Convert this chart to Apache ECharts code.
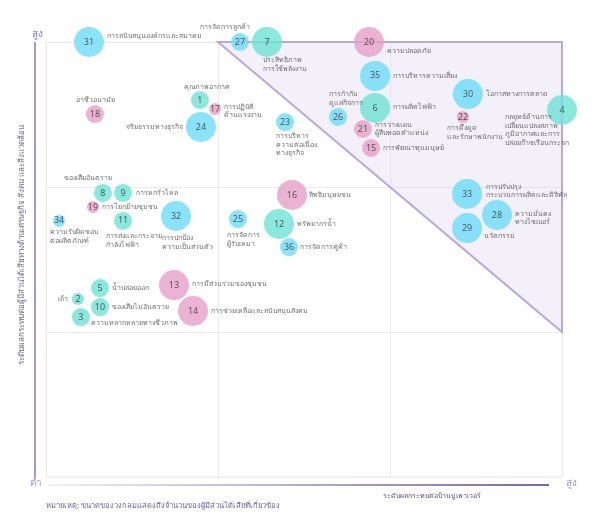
<!DOCTYPE html>
<html><head><meta charset="utf-8">
<script src="https://cdn.jsdelivr.net/npm/echarts@6/dist/echarts.min.js"></script>
<style>html,body{margin:0;padding:0;background:#fff}#c{width:600px;height:519px}</style>
</head><body><div id="c"></div>
<script>
// ---- data ----
const ids = [1,2,3,4,5,6,7,8,9,10,11,12,13,14,15,16,17,18,19,20,21,22,23,24,25,26,27,28,29,30,31,32,33,34,35,36];
const impactBanpuPower = [0.895,0.186,0.203,3.0,0.314,1.913,1.285,0.331,0.448,0.314,0.448,1.355,0.744,0.855,1.890,1.430,0.983,0.285,0.273,1.878,1.843,2.424,1.390,0.901,1.116,1.698,1.128,2.622,2.448,2.453,0.250,0.756,2.448,0.076,1.913,1.413];
const importanceStakeholders = [2.600,1.228,1.103,2.531,1.303,2.545,3.0,1.959,1.959,1.172,1.766,1.745,1.324,1.145,2.269,1.945,2.538,2.503,1.862,3.0,2.400,2.483,2.448,2.414,1.779,2.483,3.0,1.807,1.717,2.641,3.0,1.800,1.952,1.766,2.766,1.586];
const groups = ['env','env','env','env','env','env','env','env','env','env','env','env','social','social','social','social','social','social','social','social','social','social','econ','econ','econ','econ','econ','econ','econ','econ','econ','econ','econ','econ','econ','econ'];
const stakeholderLevel = [2,1,2,3,2,3,3,2,2,2,2,3,3,3,2,3,1,2,1,3,2,1,2,3,2,2,2,3,3,3,3,3,3,1,3,2];
const names = [
 'คุณภาพอากาศ','เถ้า','ความหลากหลายทางชีวภาพ','กลยุทธ์ด้านการ\nเปลี่ยนแปลงสภาพ\nภูมิอากาศและการ\nปล่อยก๊าซเรือนกระจก',
 'น้ำปล่อยออก','การผลิตไฟฟ้า','ประสิทธิภาพ\nการใช้พลังงาน','ของเสียอันตราย','การหกรั่วไหล','ของเสียไม่อันตราย',
 'การส่งและกระจาย\nกำลังไฟฟ้า','ทรัพยากรน้ำ','การมีส่วนร่วมของชุมชน','การช่วยเหลือและสนับสนุนสังคม','การพัฒนาทุนมนุษย์',
 'สิทธิมนุษยชน','การปฏิบัติ\nด้านแรงงาน','อาชีวอนามัย','การโยกย้ายชุมชน','ความปลอดภัย','การวางแผน\nผู้สืบทอดตำแหน่ง',
 'การดึงดูด\nและรักษาพนักงาน','การบริหาร\nความต่อเนื่อง\nทางธุรกิจ','จริยธรรมทางธุรกิจ','การจัดการ\nผู้รับเหมา',
 'การกำกับ\nดูแลกิจการ','การจัดการลูกค้า','ความมั่นคง\nทางไซเบอร์','นวัตกรรม','โอกาสทางการตลาด',
 'การสนับสนุนองค์กรและสมาคม','การปกป้อง\nความเป็นส่วนตัว','การปรับปรุง\nกระบวนการผลิตและดิจิทัล','ความรับผิดชอบ\nต่อผลิตภัณฑ์',
 'การบริหารความเสี่ยง','การจัดการคู่ค้า'];
const priorityZone = [[1,3],[3,3],[3,1]];
const axisLow = 'ต่ำ', axisHigh = 'สูง';
const xTitle = 'ระดับผลกระทบต่อบ้านปู เพาเวอร์';
const yTitle = 'ระดับผลกระทบต่อผู้มีส่วนได้เสียทางด้านเศรษฐกิจ สังคม และสิ่งแวดล้อม';
const note = 'หมายเหตุ: ขนาดของวงกลมแสดงถึงจำนวนของผู้มีส่วนได้เสียที่เกี่ยวข้อง';

// ---- styles / layout ----
const colors = {env:'#6ee2d3', social:'#e6a0c8', econ:'#6ddcf8'};
const sizeMap = {1:12, 2:18, 3:30};
// label anchor offsets relative to bubble centre: [dx, dy, align, verticalAlign]
const lab = {
 1:[7,-13,'center','middle'],2:[-10,0,'right','middle'],3:[10,6,'left','middle'],4:[-57,3,'left','top'],
 5:[12,0,'left','middle'],6:[18,-1,'left','middle'],7:[-4,14,'left','top'],8:[-15,-15,'center','middle'],
 9:[13,0,'left','middle'],10:[12,0,'left','middle'],11:[-17,11,'left','top'],12:[18,0,'left','middle'],
 13:[18,-1,'left','middle'],14:[18,0,'left','middle'],15:[12,0,'left','middle'],16:[17,0,'left','middle'],
 17:[9,2,'left','middle'],18:[0,-14,'center','middle'],19:[9,0,'left','middle'],20:[18,9,'left','middle'],
 21:[12,0,'left','middle'],22:[-16,7,'left','top'],23:[-9,10,'left','top'],24:[-18,0,'right','middle'],
 25:[-11,12,'left','top'],26:[-9,-10,'left','bottom'],27:[-15,-15,'center','middle'],28:[18,3,'left','middle'],
 29:[17,8,'left','middle'],30:[18,0,'left','middle'],31:[18,-6,'left','middle'],32:[-14,18,'left','top'],
 33:[19,-3,'left','middle'],34:[-9,7,'left','top'],35:[18,0,'left','middle'],36:[11,0,'left','middle']
};
const FONT = '"Noto Sans", "DejaVu Sans", sans-serif';

const bubbles = ids.map((id,i)=>({
  value:[impactBanpuPower[i], importanceStakeholders[i]],
  symbolSize:sizeMap[stakeholderLevel[i]],
  itemStyle:{color:colors[groups[i]]},
  label:{show:true, formatter:String(id), position:'inside', fontSize:9, color:'#3a3a3a', fontFamily:FONT}
}));
const nameLabels = ids.map((id,i)=>{
  const L = lab[id];
  return {
    value:[impactBanpuPower[i], importanceStakeholders[i]],
    symbolSize:2,
    label:{show:true, formatter:names[i], position:['50%','50%'], offset:[L[0],L[1]],
      align:L[2], verticalAlign:L[3], fontSize:7, lineHeight:8.5, color:'#4a4a4a', fontFamily:FONT}
  };
});

const chart = echarts.init(document.getElementById('c'));
chart.setOption({
  animation:false,
  grid:{left:46, top:42, width:516, height:435, show:true, borderColor:'#ececec', borderWidth:1, backgroundColor:'#fff'},
  xAxis:{type:'value', min:0, max:3, interval:1, axisLine:{show:false}, axisTick:{show:false}, axisLabel:{show:false},
    splitLine:{lineStyle:{color:'#ececec'}}},
  yAxis:{type:'value', min:0, max:3, interval:1, axisLine:{show:false}, axisTick:{show:false}, axisLabel:{show:false},
    splitLine:{lineStyle:{color:'#ececec'}}},
  series:[
    {type:'custom', z:1, silent:true, data:[0],
     renderItem:(params, api)=>({type:'polygon', shape:{points:priorityZone.map(p=>api.coord(p))},
       style:{fill:'rgba(205,192,232,0.24)', stroke:'#b9a9da', lineWidth:2}})},
    {type:'scatter', z:3, data:bubbles, emphasis:{disabled:true}},
    {type:'scatter', z:4, data:nameLabels, itemStyle:{color:'rgba(0,0,0,0)'}, silent:true, emphasis:{disabled:true}}
  ],
  graphic:[
    {type:'line', shape:{x1:35,y1:42,x2:35,y2:478}, style:{stroke:'#8d74c9', lineWidth:1.5}},
    {type:'text', left:32, top:29, style:{text:axisHigh, fill:'#8d74c9', fontSize:10, fontFamily:FONT}},
    {type:'text', left:30, top:478, style:{text:axisLow, fill:'#a597cc', fontSize:10, fontFamily:FONT}},
    {type:'line', shape:{x1:48,y1:485,x2:549,y2:485},
     style:{lineWidth:1.5, stroke:new echarts.graphic.LinearGradient(0,0,1,0,[{offset:0,color:'#ececf2'},{offset:1,color:'#4d3192'}])}},
    {type:'text', left:566, top:478, style:{text:axisHigh, fill:'#a597cc', fontSize:10, fontFamily:FONT}},
    {type:'text', x:432, y:496, style:{text:xTitle, fill:'#5e4f8c', fontSize:7, fontFamily:FONT, align:'center', verticalAlign:'middle'}},
    {type:'text', x:46, y:506, style:{text:note, fill:'#6d5f98', fontSize:7.5, fontFamily:FONT, align:'left', verticalAlign:'middle'}},
    {type:'text', x:22, y:245, rotation:Math.PI/2, style:{text:yTitle, fill:'#6d5f98', fontSize:8, fontFamily:FONT, align:'center', verticalAlign:'middle'}}
  ]
});
</script></body></html>
